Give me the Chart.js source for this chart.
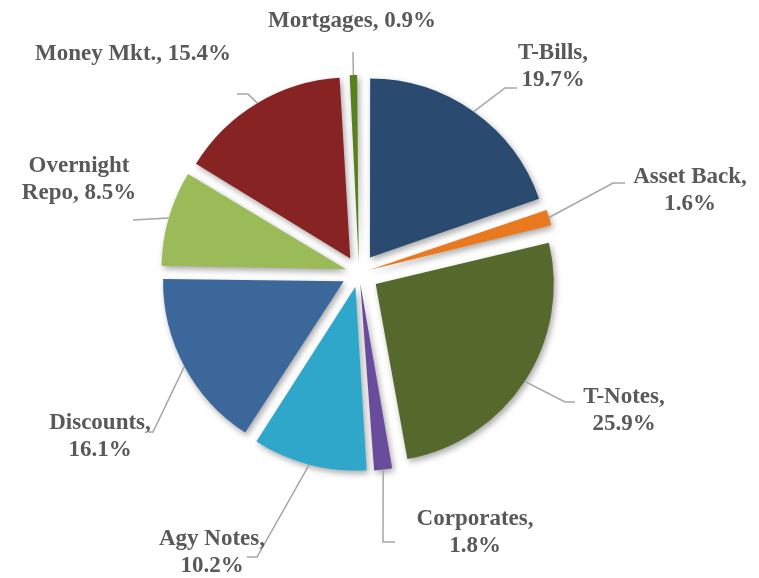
<!DOCTYPE html>
<html>
<head>
<meta charset="utf-8">
<script src="https://cdn.jsdelivr.net/npm/chart.js@4"></script>
<style>
  body { margin: 0; background: #fff; }
  #wrap { width: 759px; height: 578px; position: relative; }
</style>
</head>
<body>
<div id="wrap"><canvas id="portfolio-pie"></canvas></div>
<script>
// portfolio mix, clockwise from 12 o'clock
const sliceLabels = ['T-Bills', 'Asset Back', 'T-Notes', 'Corporates', 'Agy Notes', 'Discounts', 'Overnight Repo', 'Money Mkt.', 'Mortgages'];
const slicePercents = [19.7, 1.6, 25.9, 1.8, 10.2, 16.1, 8.5, 15.4, 0.9];
const sliceColours = ['#2b4a6f', '#e8791e', '#56682c', '#6a4c9c', '#2ea7cb', '#3c679b', '#9bbb59', '#872323', '#58801f'];

// where each callout sits: text centre x, first baseline, words on line 1 (0 = one line), leader bends
const calloutLayout = [
  { x: 553, y: 59, words: 1, path: [[505, 88], [517, 88]] },
  { x: 690, y: 183, words: 2, path: [[613, 183], [625, 183]] },
  { x: 624, y: 403, words: 1, path: [[565, 402], [575, 402]] },
  { x: 475, y: 525, words: 1, path: [[383, 542], [395, 542]] },
  { x: 212, y: 545, words: 2, path: [[257, 557], [247, 557]] },
  { x: 100, y: 429, words: 1, path: [[153, 432], [148, 432]] },
  { x: 79, y: 172, words: 1, path: [[133, 220]] },
  { x: 133, y: 60, words: 0, path: [[248, 94], [237, 94]] },
  { x: 352, y: 27, words: 0, path: [[353, 52]] }
];

const EXPLODE = 20; // px each slice is pushed out

function shade(hex, amt) {
  let n = parseInt(hex.slice(1), 16);
  let r = (n >> 16) & 255, g = (n >> 8) & 255, b = n & 255;
  const f = (c) => Math.max(0, Math.min(255, Math.round(amt > 0 ? c + (255 - c) * amt : c * (1 + amt))));
  return `rgb(${f(r)},${f(g)},${f(b)})`;
}

// Chart.js moves an arc by offset/4, plus extra for narrow arcs; undo that so every slice moves EXPLODE px
function arcFix(index) {
  const total = slicePercents.reduce((a, b) => a + b, 0);
  const circ = slicePercents[index] / total * Math.PI * 2;
  return 1 - Math.sin(Math.min(Math.PI, circ));
}
function sliceOffset(context) {
  return EXPLODE * 4 / (1 + arcFix(context.dataIndex));
}

// radial fill giving the rim a bevelled look
function bevelFill(context) {
  const el = context.element;
  const base = sliceColours[context.dataIndex];
  if (!el || !el.outerRadius) return base;
  const g = context.chart.ctx.createRadialGradient(el.x, el.y, 0, el.x, el.y, el.outerRadius);
  g.addColorStop(0, shade(base, -0.06));
  g.addColorStop(0.9, base);
  g.addColorStop(0.955, shade(base, 0.25));
  g.addColorStop(1, shade(base, -0.3));
  return g;
}

const shadowPlugin = {
  id: 'sliceShadow',
  beforeDatasetsDraw(chart) {
    const ctx = chart.ctx;
    ctx.save();
    ctx.shadowColor = 'rgba(0,0,0,0.35)';
    ctx.shadowBlur = 6;
    ctx.shadowOffsetX = 2;
    ctx.shadowOffsetY = 3;
  },
  afterDatasetsDraw(chart) {
    chart.ctx.restore();
  }
};

const calloutPlugin = {
  id: 'callouts',
  afterDraw(chart) {
    const ctx = chart.ctx;
    const arcs = chart.getDatasetMeta(0).data;
    ctx.save();
    arcs.forEach((arc, i) => {
      const lay = calloutLayout[i];
      const mid = (arc.startAngle + arc.endAngle) / 2;
      const r = EXPLODE + arc.outerRadius;
      // leader line from the slice rim
      ctx.strokeStyle = '#a6a6a6';
      ctx.lineWidth = 1.5;
      ctx.beginPath();
      ctx.moveTo(arc.x + Math.cos(mid) * r, arc.y + Math.sin(mid) * r);
      lay.path.forEach(p => ctx.lineTo(p[0], p[1]));
      ctx.stroke();

      // text
      const words = (sliceLabels[i] + ', ' + slicePercents[i].toFixed(1) + '%').split(' ');
      const lines = lay.words ? [words.slice(0, lay.words).join(' '), words.slice(lay.words).join(' ')] : [words.join(' ')];
      ctx.fillStyle = '#595959';
      ctx.font = 'bold 23px "Liberation Serif"';
      ctx.textAlign = 'center';
      ctx.textBaseline = 'alphabetic';
      lines.forEach((t, k) => ctx.fillText(t, lay.x, lay.y + k * 27));
    });
    ctx.restore();
  }
};

new Chart(document.getElementById('portfolio-pie'), {
  type: 'pie',
  data: {
    labels: sliceLabels,
    datasets: [{
      data: slicePercents,
      backgroundColor: bevelFill,
      borderWidth: 0,
      offset: sliceOffset
    }]
  },
  options: {
    responsive: true,
    maintainAspectRatio: false,
    animation: false,
    radius: 178,
    layout: { padding: { left: 0, right: 41, top: 0, bottom: 32 } },
    plugins: {
      legend: { display: false },
      tooltip: { enabled: false }
    }
  },
  plugins: [shadowPlugin, calloutPlugin]
});
</script>
</body>
</html>
